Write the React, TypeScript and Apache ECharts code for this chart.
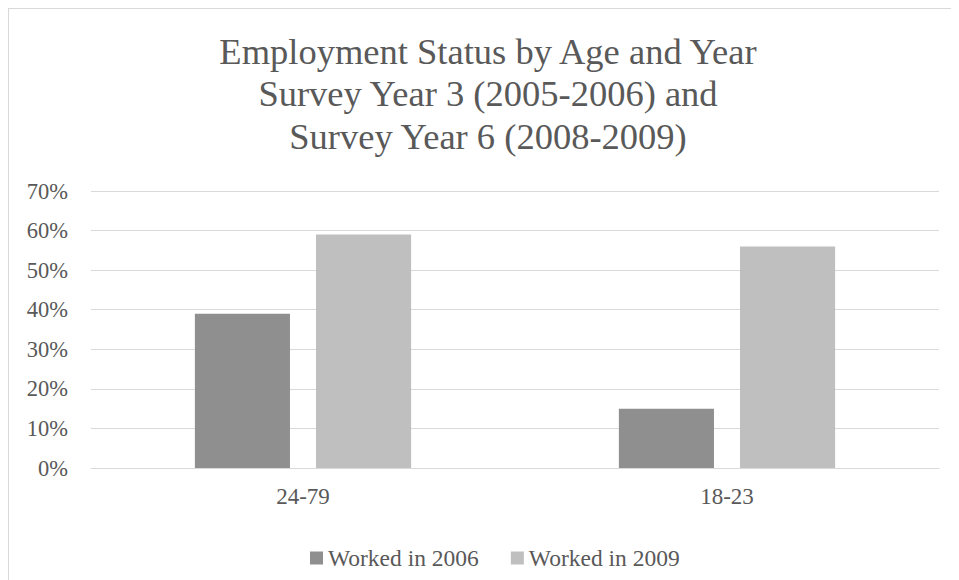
import React, { useEffect, useRef } from "react";
import * as echarts from "echarts";

// Age groups shown along the x-axis
const categories = ["24-79", "18-23"];
// Share of respondents who worked, in percent
const worked2006 = [39, 15];
const worked2009 = [59, 56];
const seriesNames = ["Worked in 2006", "Worked in 2009"];
const titleLines = [
  "Employment Status by Age and Year",
  "Survey Year 3 (2005-2006) and",
  "Survey Year 6 (2008-2009)",
];

const FONT = "Times New Roman, Liberation Serif, DejaVu Serif, serif";
const TEXT = "#595959";

export default function App() {
  const ref = useRef<HTMLDivElement>(null);

  useEffect(() => {
    if (!ref.current) return;
    const chart = echarts.init(ref.current, undefined, { renderer: "svg" });
    chart.setOption({
      animation: false,
      backgroundColor: "#ffffff",
      textStyle: { fontFamily: FONT, color: TEXT },
      title: {
        text: titleLines.join("\n"),
        left: "center",
        top: 16,
        textStyle: {
          fontFamily: FONT,
          fontSize: 36.5,
          fontWeight: "normal",
          color: TEXT,
          lineHeight: 42.5,
        },
      },
      legend: {
        data: seriesNames,
        left: 296,
        top: 532,
        icon: "rect",
        itemWidth: 13,
        itemHeight: 13,
        itemGap: 32,
        textStyle: { fontFamily: FONT, fontSize: 23.5, color: TEXT },
      },
      grid: { left: 82, right: 28, top: 182, height: 277, containLabel: false },
      xAxis: {
        type: "category",
        data: categories,
        axisLine: { lineStyle: { color: "#d9d9d9", width: 1 } },
        axisTick: { show: false },
        axisLabel: { fontFamily: FONT, fontSize: 23, color: TEXT, margin: 17 },
      },
      yAxis: {
        type: "value",
        min: 0,
        max: 70,
        interval: 10,
        axisLine: { show: false },
        axisTick: { show: false },
        axisLabel: {
          formatter: "{value}%",
          fontFamily: FONT,
          fontSize: 22.5,
          color: TEXT,
          margin: 23,
        },
        splitLine: { lineStyle: { color: "#d9d9d9", width: 1 } },
      },
      series: [
        {
          name: seriesNames[0],
          type: "bar",
          data: worked2006,
          itemStyle: { color: "#8f8f8f" },
          barGap: "27.4%",
          barCategoryGap: "49%",
        },
        {
          name: seriesNames[1],
          type: "bar",
          data: worked2009,
          itemStyle: { color: "#bfbfbf" },
          barGap: "27.4%",
          barCategoryGap: "49%",
        },
      ],
    });
    return () => chart.dispose();
  }, []);

  return (
    <div
      style={{
        width: 951,
        height: 572,
        overflow: "hidden",
        borderLeft: "1px solid #d9d9d9",
        borderTop: "1px solid #d9d9d9",
        boxSizing: "border-box",
        background: "#ffffff",
      }}
    >
      <div ref={ref} style={{ width: 958, height: 600 }} />
    </div>
  );
}
